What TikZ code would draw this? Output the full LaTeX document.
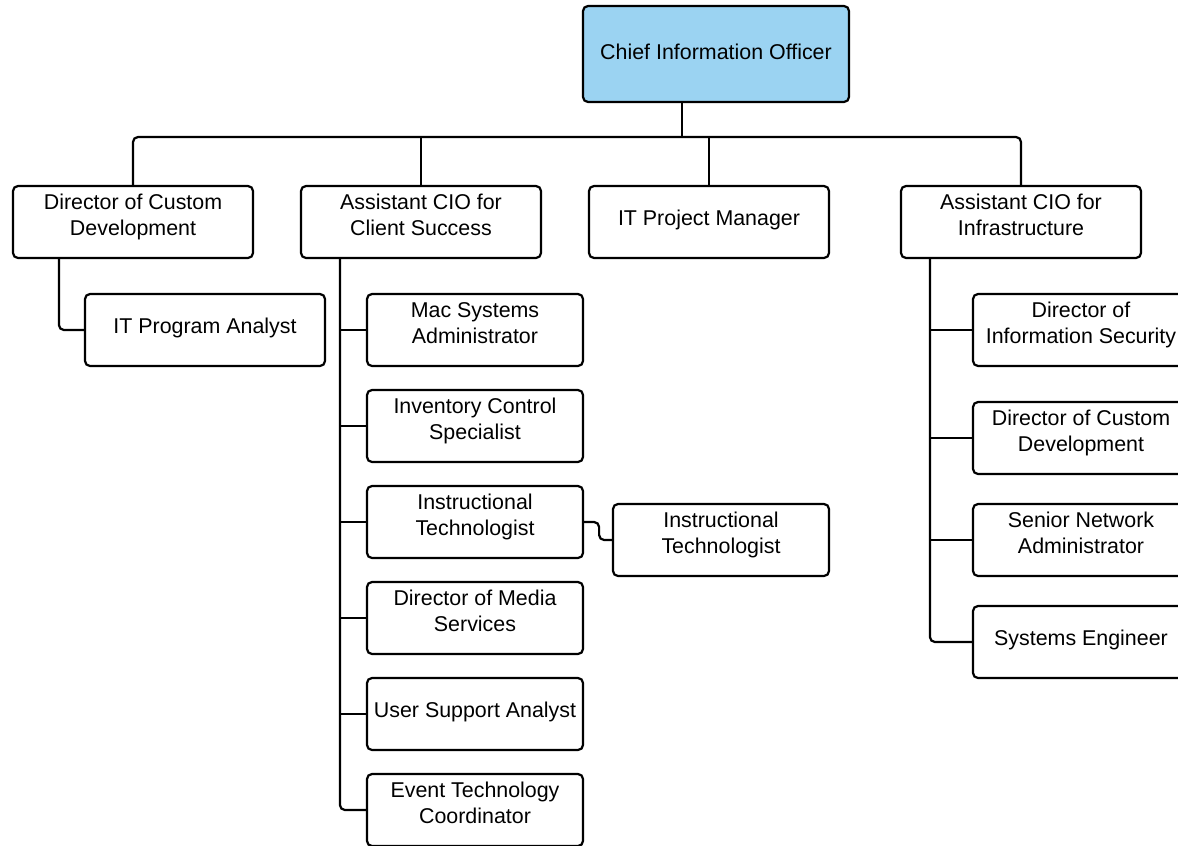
\documentclass[tikz,border=0pt]{standalone}
\usepackage{fontspec}
\setmainfont{Liberation Sans}
\definecolor{cioblue}{RGB}{155,211,242}
\begin{document}
\begin{tikzpicture}[x=1pt,y=-1pt,
  box/.style={draw=black, line width=2.2pt, rounded corners=5pt, rectangle,
    minimum width=240pt, minimum height=72pt, inner sep=0pt, fill=white,
    align=center, font=\fontsize{21.4}{26}\selectfont, text depth=14.5pt},
  one/.style={text depth=8.5pt},
  sbox/.style={box, minimum width=216pt},
  conn/.style={draw=black, line width=2.2pt, rounded corners=5pt},
  tick/.style={draw=black, line width=2.2pt}]
\useasboundingbox (0,0) rectangle (1178,846);
\clip (0,0) rectangle (1178,846);

% top
\node[box, fill=cioblue, minimum width=266pt, minimum height=96pt, text depth=4pt] (cio) at (716,54) {Chief Information Officer};

% level 1
\node[box] (dcd) at (133,222) {Director of Custom\\Development};
\node[box] (acs) at (421,222) {Assistant CIO for\\Client Success};
\node[box, one] (pm)  at (709,222) {IT Project Manager};
\node[box] (aci) at (1021,222) {Assistant CIO for\\Infrastructure};

% bus
\coordinate (bus) at (682,137);
\draw[conn] (dcd.north) |- (bus) -| (aci.north);
\draw[tick] (bus |- cio.south) -- (bus);
\draw[tick] (acs.north) -- (acs.north |- bus);
\draw[tick] (pm.north) -- (pm.north |- bus);

% left branch
\node[box, one] (ipa) at (205,330) {IT Program Analyst};
\draw[conn] ([xshift=47pt]dcd.south west) |- (ipa.west);

% client success branch
\node[sbox] (c1) at (475,330) {Mac Systems\\Administrator};
\node[sbox] (c2) at (475,426) {Inventory Control\\Specialist};
\node[sbox] (c3) at (475,522) {Instructional\\Technologist};
\node[sbox] (c4) at (475,618) {Director of Media\\Services};
\node[sbox, one] (c5) at (475,714) {User Support Analyst};
\node[sbox] (c6) at (475,810) {Event Technology\\Coordinator};
\coordinate (sp1) at ([xshift=40pt]acs.south west);
\draw[conn] (sp1) |- (c6.west);
\draw[tick] (c1.west) -- (c1.west -| sp1);
\draw[tick] (c2.west) -- (c2.west -| sp1);
\draw[tick] (c3.west) -- (c3.west -| sp1);
\draw[tick] (c4.west) -- (c4.west -| sp1);
\draw[tick] (c5.west) -- (c5.west -| sp1);

\node[sbox] (it) at (721,540) {Instructional\\Technologist};
\draw[conn] (c3.east) -- ++(15,0) |- (it.west);

% infrastructure branch
\node[sbox] (r1) at (1081,330) {Director of\\Information Security};
\node[sbox] (r2) at (1081,438) {Director of Custom\\Development};
\node[sbox] (r3) at (1081,540) {Senior Network\\Administrator};
\node[sbox, one] (r4) at (1081,642) {Systems Engineer};
\coordinate (sp2) at ([xshift=30pt]aci.south west);
\draw[conn] (sp2) |- (r4.west);
\draw[tick] (r1.west) -- (r1.west -| sp2);
\draw[tick] (r2.west) -- (r2.west -| sp2);
\draw[tick] (r3.west) -- (r3.west -| sp2);
\end{tikzpicture}
\end{document}
